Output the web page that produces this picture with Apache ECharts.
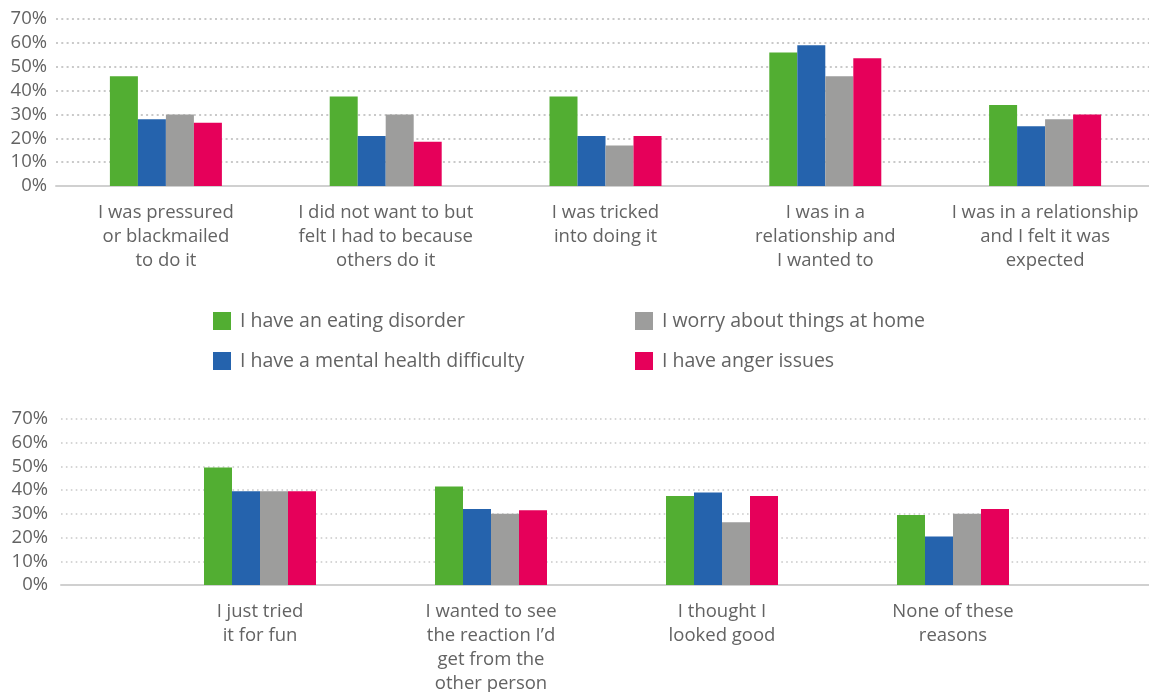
<!DOCTYPE html>
<html>
<head>
<meta charset="utf-8">
<script src="https://cdn.jsdelivr.net/npm/echarts@6/dist/echarts.min.js"></script>
<style>html,body{margin:0;padding:0;background:#fff;}#c{width:1149px;height:692px;}</style>
</head>
<body>
<div id="c"></div>
<script>
const seriesNames = ['I have an eating disorder', 'I have a mental health difficulty', 'I worry about things at home', 'I have anger issues'];
const colors = ['#52AE32', '#2563AD', '#9D9D9C', '#E6005A'];

const topCategories = [
  'I was pressured\nor blackmailed\nto do it',
  'I did not want to but\nfelt I had to because\nothers do it',
  'I was tricked\ninto doing it',
  'I was in a\nrelationship and\nI wanted to',
  'I was in a relationship\nand I felt it was\nexpected'
];
const topEating = [46, 37.5, 37.5, 56, 34];
const topMental = [28, 21, 21, 59, 25];
const topWorry  = [30, 30, 17, 46, 28];
const topAnger  = [26.5, 18.5, 21, 53.5, 30];

const bottomCategories = [
  'I just tried\nit for fun',
  'I wanted to see\nthe reaction I\u2019d\nget from the\nother person',
  'I thought I\nlooked good',
  'None of these\nreasons'
];
const bottomEating = [49.5, 41.5, 37.5, 29.5];
const bottomMental = [39.5, 32, 39, 20.5];
const bottomWorry  = [39.5, 30, 26.5, 30];
const bottomAnger  = [39.5, 31.5, 37.5, 32];

const yTicks = ['0%', '10%', '20%', '30%', '40%', '50%', '60%', '70%'];

const FONT = "'Open Sans', 'Noto Sans', sans-serif";
const TXT = '#636363';

const chart = echarts.init(document.getElementById('c'), null, {renderer: 'canvas'});

function yAxisFor(grid, show, margin, dotW) {
  return {
    type: 'value', gridIndex: grid, min: 0, max: 70, interval: 10, show: show,
    axisLine: {show: false}, axisTick: {show: false},
    axisLabel: {show: show, margin: margin, color: TXT, fontFamily: FONT, fontSize: 18.5,
      formatter: function (v) { return yTicks[Math.round(v / 10)]; }},
    splitLine: {show: show, lineStyle: {color: '#c9c9c9', width: dotW, type: [dotW, 3.3]}}
  };
}

const topData = [topEating, topMental, topWorry, topAnger];
const bottomData = [bottomEating, bottomMental, bottomWorry, bottomAnger];

const series = [];
for (let i = 0; i < 4; i++) {
  series.push({
    name: seriesNames[i], type: 'bar', xAxisIndex: 0, yAxisIndex: 0,
    data: topData[i], barWidth: 28, barGap: '0%', itemStyle: {color: colors[i]}, silent: true
  });
}
for (let i = 0; i < 4; i++) {
  series.push({
    name: seriesNames[i], type: 'bar', xAxisIndex: 2, yAxisIndex: 2,
    data: bottomData[i], barWidth: 28, barGap: '0%', itemStyle: {color: colors[i]}, silent: true
  });
}

const legendText = {color: TXT, fontFamily: FONT, fontSize: 19.5, padding: [0, 0, 0, 4]};

chart.setOption({
  animation: false,
  backgroundColor: '#fff',
  grid: [
    {left: 56, top: 19, width: 1099, height: 167, outerBoundsMode: 'none', containLabel: false},
    {left: 61, top: 419, right: 0, height: 166, outerBoundsMode: 'none', containLabel: false},
    {left: 144.5, top: 419, width: 924, height: 166, outerBoundsMode: 'none', containLabel: false}
  ],
  legend: [
    {data: [seriesNames[0], seriesNames[1]], orient: 'vertical', left: 208, top: 306,
      itemWidth: 18, itemHeight: 18, itemGap: 20, icon: 'rect', textStyle: legendText, selectedMode: false},
    {data: [seriesNames[2], seriesNames[3]], orient: 'vertical', left: 630, top: 306,
      itemWidth: 18, itemHeight: 18, itemGap: 20, icon: 'rect', textStyle: legendText, selectedMode: false}
  ],
  xAxis: [
    {type: 'category', gridIndex: 0, data: topCategories,
      axisLine: {lineStyle: {color: '#d0d0d0', width: 2}}, axisTick: {show: false},
      axisLabel: {interval: 0, margin: 15, color: TXT, fontFamily: FONT, fontSize: 18.5, lineHeight: 24, align: 'center'}},
    {type: 'value', gridIndex: 1, min: 0, max: 1,
      axisLine: {show: true, onZero: false, lineStyle: {color: '#d0d0d0', width: 2}}, axisTick: {show: false},
      axisLabel: {show: false}, splitLine: {show: false}},
    {type: 'category', gridIndex: 2, data: bottomCategories,
      axisLine: {show: false}, axisTick: {show: false},
      axisLabel: {interval: 0, margin: 15, color: TXT, fontFamily: FONT, fontSize: 18.5, lineHeight: 24, align: 'center'}}
  ],
  yAxis: [
    yAxisFor(0, true, 9, 2),
    yAxisFor(1, true, 13, 1.6),
    yAxisFor(2, false, 0, 1)
  ],
  series: series
});
</script>
</body>
</html>
